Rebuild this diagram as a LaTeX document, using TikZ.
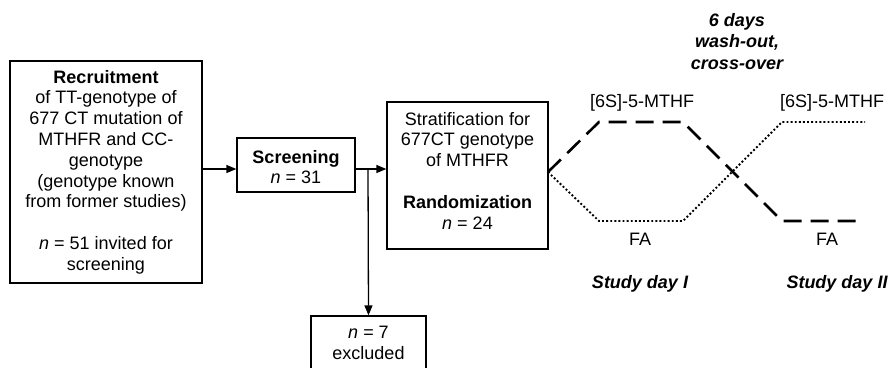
\documentclass[tikz,border=0pt]{standalone}
\usepackage{fontspec}
\setmainfont{Liberation Sans}
\usetikzlibrary{arrows.meta}
\begin{document}
\begin{tikzpicture}[x=1pt,y=-1pt,
  every node/.style={font=\fontsize{18}{20.8}\selectfont, inner sep=0pt, align=center},
  box/.style={draw, line width=1.3pt, minimum width=#1},
  arr/.style={line width=1.3pt, -{Triangle[length=10pt,width=8pt]}},
  plain/.style={line width=1.3pt},
  dashline/.style={line width=2.6pt, dash pattern=on 18pt off 9pt},
  dotline/.style={line width=1.9pt, dash pattern=on 1.9pt off 2.2pt},
  emph/.style={font=\fontsize{18}{21.5}\selectfont\bfseries\itshape}]
\useasboundingbox (0,0) rectangle (888,367);

% flow boxes
\node[box=192pt, minimum height=222pt] (recruit) at (106,172)
  {\textbf{Recruitment}\\ of TT-genotype of\\ 677 CT mutation of\\ MTHFR and CC-\\ genotype\\ (genotype known\\ from former studies)\\[20.8pt] \textit{n} = 51 invited for\\ screening};
\node[box=118pt, minimum height=54pt] (screen) at (296,165) {};
\node (screentext) at (296,167) {\textbf{Screening}\\ \textit{n} = 31};
\node[box=161pt, minimum height=147pt] (strat) at (467.5,175.5) {};
\node (strattext) at (467.5,170.5)
  {Stratification for\\ 677CT genotype\\ of MTHFR\\[20.8pt] \textbf{Randomization}\\ \textit{n} = 24};
\node[box=115pt, minimum height=60pt] (excl) at (368.5,346) {};
\node (excltext) at (368.5,343) {\textit{n} = 7\\ excluded};

% connectors
\draw[arr] (recruit.east |- 0,169) -- (screen.west |- 0,169);
\coordinate (split) at (368,169);
\draw[plain] (screen.east |- 0,169) -- (split);
\draw[arr] (split) -- (strat.west |- 0,169);
\draw[arr] (split) -- (excl.north);

% treatment courses
\coordinate (s0) at (548,172);
\coordinate (hiA) at (599,122);
\coordinate (hiB) at (683,122);
\coordinate (loA) at (599,221);
\coordinate (loB) at (683,221);
\coordinate (loC) at (782,221);
\coordinate (loD) at (864,221);
\coordinate (hiC) at (782,122);
\coordinate (hiD) at (865,122);
\draw[dashline] (s0) -- (hiA) -- (hiB) -- (loC) -- (loD);
\draw[dotline] (s0) -- (loA) -- (loB) -- (hiC) -- (hiD);

% labels
\node (mthf1) at (642,103) {[6S]-5-MTHF};
\node (mthf2) at (832,103) {[6S]-5-MTHF};
\node (fa1) at (640,239) {FA};
\node (fa2) at (827,239) {FA};
\node[emph] (wash) at (737,41.5) {6 days\\ wash-out,\\ cross-over};
\node[emph] (day1) at (640,284) {Study day I};
\node[emph] (day2) at (837,284) {Study day II};
\end{tikzpicture}
\end{document}
